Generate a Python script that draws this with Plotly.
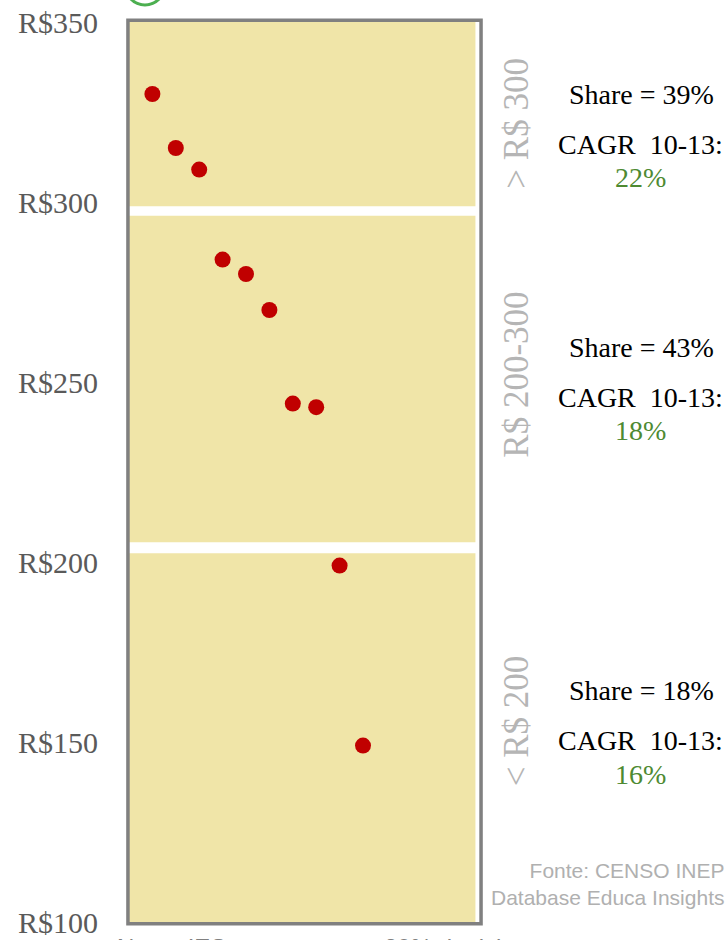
import plotly.graph_objects as go

# IES ranked by average ticket
ies_rank = [1, 2, 3, 4, 5, 6, 7, 8, 9, 10]
ticket = [330, 315, 309, 284, 280, 270, 244, 243, 199, 149]

y_ticks = [100, 150, 200, 250, 300, 350]
y_labels = ["R$100", "R$150", "R$200", "R$250", "R$300", "R$350"]

# price bands (bottom, top) in R$
band_ranges = [(100, 202.4), (205.5, 296.2), (298.8, 350)]
band_names = ["< R$ 200", "R$ 200-300", "> R$ 300"]
band_share = ["18%", "43%", "39%"]
band_cagr = ["16%", "18%", "22%"]

YELLOW = "#F0E5A8"
FRAME = "#808080"
RED = "#C00000"
GREEN = "#4E8A32"
SERIF = "Liberation Serif, Times New Roman, serif"

fig = go.Figure()

fig.add_trace(go.Scatter(
    x=ies_rank, y=ticket,
    mode="markers",
    marker=dict(size=16, color=RED),
    showlegend=False,
    hoverinfo="y"
))

shapes = []
for lo, hi in band_ranges:
    shapes.append(dict(type="rect", xref="paper", yref="y",
                       x0=0, x1=0.987, y0=lo, y1=hi,
                       fillcolor=YELLOW, line=dict(width=0), layer="below"))
# frame
shapes.append(dict(type="rect", xref="paper", yref="paper",
                   x0=-0.003, x1=1.003, y0=-0.002, y1=1.002,
                   line=dict(color=FRAME, width=3.5)))
# legend marker cut off at the top
shapes.append(dict(type="circle", xref="paper", yref="paper",
                   x0=-0.012, x1=0.103, y0=1.019, y1=1.065,
                   line=dict(color="#4CAF50", width=3)))

# annotation anchor heights (R$) for each band
name_y = [156, 252, 322]
share_y = [164.4, 259.7, 330]
cagr_y = [150.3, 245.8, 316.1]
pct_y = [141.1, 236.4, 306.7]

ann = []
for i in range(3):
    ann.append(dict(x=1.105, y=name_y[i], xref="paper", yref="y",
                    xanchor="center", yanchor="middle",
                    text=band_names[i], textangle=-90, showarrow=False,
                    font=dict(family=SERIF, size=35, color="#B5B5B5")))
    ann.append(dict(x=1.459, y=share_y[i], xref="paper", yref="y",
                    xanchor="center", yanchor="middle",
                    text="Share = " + band_share[i], showarrow=False,
                    font=dict(family=SERIF, size=28, color="black")))
    ann.append(dict(x=1.456, y=cagr_y[i], xref="paper", yref="y",
                    xanchor="center", yanchor="middle",
                    text="CAGR  10-13:", showarrow=False,
                    font=dict(family=SERIF, size=28, color="black")))
    ann.append(dict(x=1.456, y=pct_y[i], xref="paper", yref="y",
                    xanchor="center", yanchor="middle",
                    text=band_cagr[i], showarrow=False,
                    font=dict(family=SERIF, size=28, color=GREEN)))

ann.append(dict(x=1.70, y=0.042, xref="paper", yref="paper",
                xanchor="right", yanchor="middle",
                text="Fonte: CENSO INEP<br>Database Educa Insights",
                align="right", showarrow=False,
                font=dict(family="Liberation Sans, Arial", size=21, color="#B0B0B0")))
# axis caption cut off at the bottom
ann.append(dict(x=-0.04, y=-0.011, xref="paper", yref="paper",
                xanchor="left", yanchor="top", text="Nome IES", showarrow=False,
                font=dict(family="Liberation Sans, Arial", size=24, color="#808080")))
ann.append(dict(x=0.72, y=-0.011, xref="paper", yref="paper",
                xanchor="left", yanchor="top", text="20% do ticket", showarrow=False,
                font=dict(family="Liberation Sans, Arial", size=24, color="#808080")))

fig.update_layout(
    width=728, height=940,
    margin=dict(l=129, r=248, t=22, b=18, autoexpand=False),
    paper_bgcolor="white", plot_bgcolor="white",
    shapes=shapes, annotations=ann,
    xaxis=dict(range=[0, 15], visible=False, fixedrange=True),
    yaxis=dict(range=[100, 350], tickvals=y_ticks, ticktext=y_labels,
               showgrid=False, zeroline=False, showline=False,
               ticks="", ticklabelstandoff=30, automargin=False,
               tickfont=dict(family=SERIF, size=30, color="#5A5A5A")),
)

fig.write_html("out.html", config={"displayModeBar": False},
               post_script="document.body.style.margin='0px';")
